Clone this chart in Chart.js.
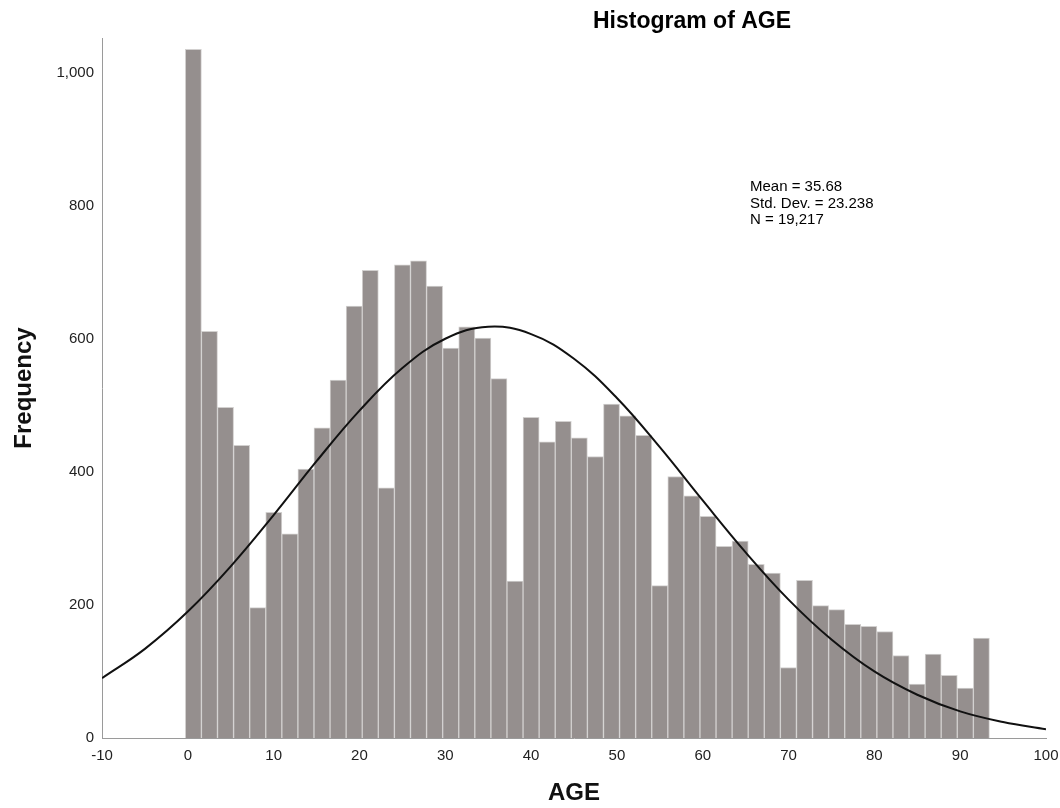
<!DOCTYPE html>
<html>
<head>
<meta charset="utf-8">
<title>Histogram of AGE</title>
<script src="https://cdn.jsdelivr.net/npm/chart.js@4"></script>
<style>
    body { margin: 0; background: #ffffff; }
    #wrap { width: 1060px; height: 808px; position: relative; }
</style>
</head>
<body>
<div id="wrap"><canvas id="histChart"></canvas></div>
<script>
// Histogram bins (AGE)
const binStart = -0.29
const binWidth = 1.874
const counts = [
    1035, 611, 497, 440, 196, 339, 307, 404, 466, 538,
    649, 703, 376, 711, 717, 679, 586, 618, 601, 540,
    236, 482, 445, 476, 451, 423, 502, 484, 455, 229,
    393, 364, 333, 288, 296, 261, 248, 106, 237, 199,
    193, 171, 168, 160, 124, 81, 126, 94, 75, 150
]

// Normal curve, every 5 years
const curveAges = [-10, -5, 0, 5, 10, 15, 20, 25, 30, 35, 40, 45, 50, 55, 60, 65, 70, 75, 80, 85, 90, 95, 100]
const curveFreq = [90, 134, 190, 258, 335, 416, 492, 556, 600, 618, 607, 570, 511, 437, 357, 279, 208, 148, 100, 65, 40, 24, 13]

// Stats box text
const statLines = ["Mean = 35.68", "Std. Dev. = 23.238", "N = 19,217"]

const FONT = "'Liberation Sans', Arial, sans-serif"

// build {x, y} points for the linear x axis
const barPoints = counts.map((c, i) => ({ x: binStart + binWidth * (i + 0.5), y: c }))
const curvePoints = curveAges.map((a, i) => ({ x: a, y: curveFreq[i] }))

// title + stats text drawn on top of the chart
const textPlugin = {
    id: 'extraText',
    afterDraw(chart) {
        const ctx = chart.ctx
        const area = chart.chartArea
        ctx.save()
        ctx.fillStyle = '#000'
        ctx.textBaseline = 'middle'
        ctx.textAlign = 'center'
        ctx.font = 'bold 23px ' + FONT
        ctx.fillText('Histogram of AGE', area.left + (area.right - area.left) * 0.625, 22)

        ctx.textAlign = 'left'
        ctx.font = '15px ' + FONT
        statLines.forEach((line, i) => {
            ctx.fillText(line, 750, 187 + i * 16.5)
        })
        ctx.restore()
    }
}

const canvas = document.getElementById('histChart')
new Chart(canvas, {
    type: 'bar',
    data: {
        datasets: [
            {
                type: 'line',
                data: curvePoints,
                borderColor: '#111',
                borderWidth: 2,
                pointRadius: 0,
                tension: 0.4,
                fill: false,
                order: 0
            },
            {
                type: 'bar',
                data: barPoints,
                backgroundColor: '#958f8e',
                borderColor: '#d2d0cf',
                borderWidth: 1,
                barPercentage: 1.0,
                categoryPercentage: 1.0,
                order: 1
            }
        ]
    },
    options: {
        responsive: true,
        maintainAspectRatio: false,
        animation: false,
        layout: {
            padding: { top: 38, right: 14, left: 0, bottom: 0 }
        },
        scales: {
            x: {
                type: 'linear',
                offset: false,
                min: -10,
                max: 100,
                grid: { display: false, drawTicks: false },
                border: { display: true, color: '#9a9a9a', width: 1 },
                ticks: {
                    stepSize: 10,
                    padding: 9,
                    color: '#222',
                    font: { family: FONT, size: 15 },
                    maxRotation: 0
                },
                title: {
                    display: true,
                    text: 'AGE',
                    color: '#111',
                    font: { family: FONT, size: 24, weight: 'bold' },
                    padding: { top: 0, bottom: 0 }
                },
                afterFit(scale) {
                    scale.height = 70
                    // let the "100" label hang into the right margin
                    scale.paddingRight = 0
                    scale.paddingLeft = 0
                }
            },
            y: {
                min: 0,
                max: 1052,
                grid: { display: false, drawTicks: false },
                border: { display: true, color: '#9a9a9a', width: 1 },
                ticks: {
                    stepSize: 200,
                    includeBounds: false,
                    padding: 8,
                    color: '#222',
                    font: { family: FONT, size: 15 }
                },
                title: {
                    display: true,
                    text: 'Frequency',
                    color: '#111',
                    font: { family: FONT, size: 24, weight: 'bold' },
                    padding: { top: 10, bottom: 0 }
                },
                afterFit(scale) {
                    scale.width = 102
                }
            }
        },
        plugins: {
            legend: { display: false },
            tooltip: { enabled: false },
            title: { display: false }
        }
    },
    plugins: [textPlugin]
})
</script>
</body>
</html>
